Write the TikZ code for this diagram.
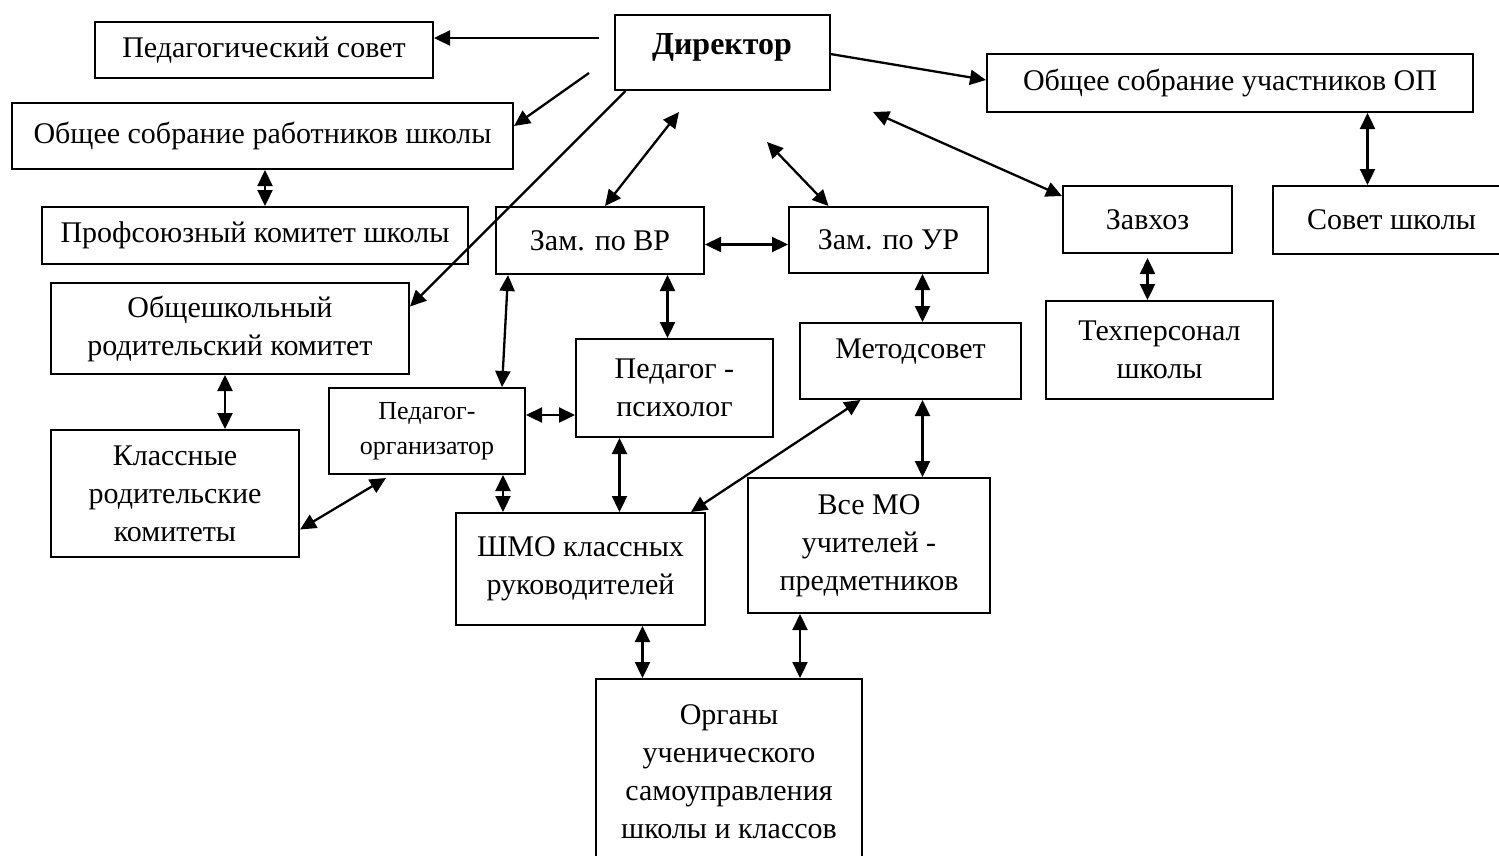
\documentclass[tikz,border=0pt]{standalone}
\usepackage{fontspec}
\setmainfont{Liberation Serif}
\usetikzlibrary{arrows.meta}

\begin{document}
\begin{tikzpicture}[x=1pt,y=-1pt,line width=2pt,
	blok/.style={draw,rectangle,inner sep=1pt,align=center,font=\fontsize{30}{38}\selectfont},
	ot/.style={-{Triangle[length=16pt,width=15pt]},line width=2.3pt},
	sv/.style={{Triangle[length=16pt,width=15pt]}-{Triangle[length=16pt,width=15pt]},line width=2.3pt}]
	\useasboundingbox (0,0) rectangle (1499,855);

	        \node[blok,minimum width=215pt,minimum height=75pt,text depth=16pt,font=\fontsize{32}{38}\selectfont\bfseries] at (722,52.5) (dir) {Директор};
	        \node[blok,minimum width=338pt,minimum height=56pt] at (264,50) (ps) {Педагогический совет};
	        \node[blok,minimum width=501pt,minimum height=66pt] at (262.5,136) (rab) {Общее собрание работников школы};
	        \node[blok,minimum width=426pt,minimum height=57pt] at (255,235.5) (prof) {Профсоюзный комитет школы};
	        \node[blok,minimum width=358pt,minimum height=91pt] at (230,328.5) (obsh) {Общешкольный\\родительский комитет};
	        \node[blok,minimum width=248pt,minimum height=127pt] at (175,493.5) (klass) {Классные\\родительские\\комитеты};
	        \node[blok,minimum width=196pt,minimum height=86pt,font=\fontsize{26}{35}\selectfont] at (427,431) (porg) {Педагог-\\организатор};
	        \node[blok,minimum width=208pt,minimum height=67pt] at (600,240.5) (zvr) {Зам. по ВР};
	        \node[blok,minimum width=199pt,minimum height=66pt] at (888.5,240) (zur) {Зам. по УР};
	        \node[blok,minimum width=197pt,minimum height=98pt] at (674.5,388) (psih) {Педагог -\\психолог};
	        \node[blok,minimum width=221pt,minimum height=76pt,text depth=24pt] at (910.5,361) (met) {Методсовет};
	        \node[blok,minimum width=242pt,minimum height=135pt] at (869,545.5) (mo) {Все МО\\учителей -\\предметников};
	        \node[blok,minimum width=249pt,minimum height=112pt] at (580.5,569) (shmo) {ШМО классных\\руководителей};
	        \node[blok,minimum width=266pt,minimum height=186pt] at (729,772) (org) {Органы\\ученического\\самоуправления\\школы и классов};
	        \node[blok,minimum width=486pt,minimum height=58pt] at (1230,83) (op) {Общее собрание участников ОП};
	        \node[blok,minimum width=169pt,minimum height=67pt] at (1147.5,219.5) (zav) {Завхоз};
	        \node[blok,minimum width=237pt,minimum height=68pt] at (1391.5,220) (sov) {Совет школы};
	        \node[blok,minimum width=227pt,minimum height=98pt] at (1159.5,350) (teh) {Техперсонал\\школы};

	        \coordinate (d1) at (599,38);
	        \coordinate (d2) at (589,73);
	        \coordinate (d3) at (679,112);
	        \coordinate (d4) at (767,142);
	        \coordinate (d5) at (873,112);

			\path[ot] (d1) edge (ps.east |- d1)
							(d2) edge ([yshift=10]rab.east)
							([xshift=12]dir.south west) edge ([yshift=22]obsh.east)
							([yshift=-1.5]dir.east) edge ([yshift=3]op.west);
			\path[sv] ([xshift=5]zvr.north) edge (d3)
							([xshift=-60]zur.north) edge (d4)
							([yshift=-11]zav.north west) edge (d5)
							([yshift=-4]zvr.east) edge ([yshift=-4]zvr.east -| zur.west)
							([xshift=-24]sov.north) edge ([xshift=-24]sov.north |- op.south)
							([xshift=2.5]rab.south) edge ([xshift=2.5]rab.south |- prof.north)
							([yshift=-4]zav.south) edge (zav.south |- teh.north)
							([xshift=-5]obsh.south) edge ([xshift=-5]obsh.south |- klass.north)
							([xshift=13]zvr.south west) edge ([xshift=174]porg.north west)
							([xshift=-7]psih.north) edge ([xshift=-7]psih.north |- zvr.south)
							([xshift=12]met.north) edge ([xshift=12]met.north |- zur.south)
							([xshift=12]met.south) edge ([xshift=12]met.south |- mo.north)
							([yshift=16]porg.east) edge ([yshift=16]porg.east -| psih.west)
							([xshift=76]porg.south) edge ([xshift=76]porg.south |- shmo.north)
							([xshift=-55]psih.south) edge ([xshift=-55]psih.south |- shmo.north)
							([xshift=-50]met.south) edge ([xshift=-15]shmo.north east)
							([yshift=-36]klass.east) edge ([xshift=58,yshift=-3]porg.south west)
							([xshift=62]shmo.south) edge ([xshift=62]shmo.south |- org.north)
							([xshift=-69]mo.south) edge ([xshift=-69]mo.south |- org.north);
		\end{tikzpicture}
\end{document}
